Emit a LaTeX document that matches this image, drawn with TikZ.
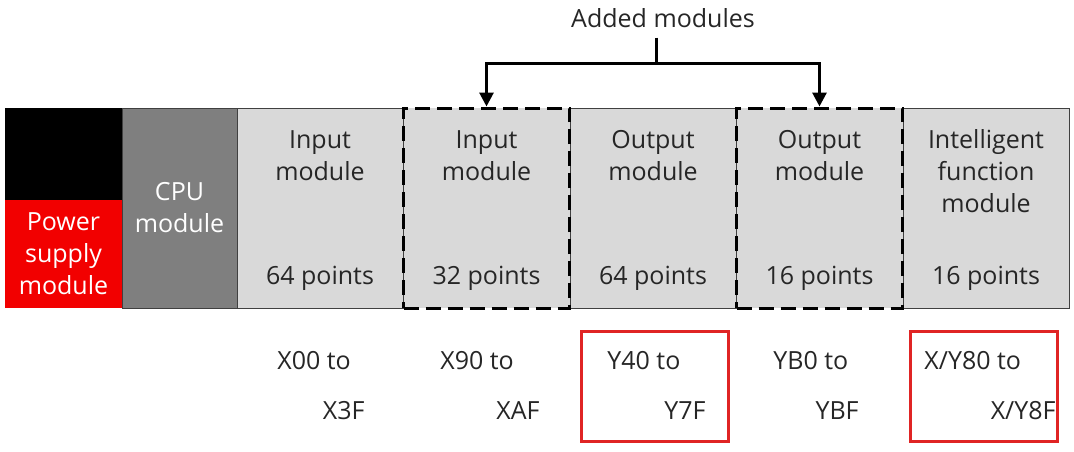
\documentclass[tikz,border=0pt]{standalone}
\usepackage{fontspec}
\setmainfont{Open Sans}
\usetikzlibrary{arrows.meta}
\definecolor{boxgray}{HTML}{D9D9D9}
\definecolor{cpugray}{HTML}{7F7F7F}
\definecolor{psred}{HTML}{F20000}
\definecolor{txtgray}{HTML}{262626}
\definecolor{markred}{HTML}{E02424}
\tikzstyle{txt}=[font=\fontsize{12.5}{16}\selectfont,inner sep=0pt,align=center,text=txtgray]
\tikzstyle{mod}=[rectangle,draw=black!75,line width=.5pt,fill=boxgray,minimum width=83pt,minimum height=100pt,inner sep=0pt]
\tikzstyle{added}=[draw=black,line width=1.5pt,dash pattern=on 7.5pt off 3.5pt]
\tikzstyle{redbox}=[rectangle,draw=markred,line width=1.5pt,minimum width=73.5pt,minimum height=55pt,inner sep=0pt]
\tikzstyle{link}=[draw=black,line width=1.5pt]

\begin{document}
\begin{tikzpicture}[x=.5pt,y=-.5pt]
\useasboundingbox (0,0) rectangle (1074,451);
% CPU and power supply
\node[rectangle,fill=black,minimum width=58.5pt,minimum height=46pt,inner sep=0pt] (pstop) at (63.5,154) {};
\node[rectangle,fill=psred,minimum width=58.5pt,minimum height=54pt,inner sep=0pt] (ps) at (63.5,254) {};
\node[txt,text=white] (pstext) at (ps) {Power\\supply\\module};
\node[mod,fill=cpugray,minimum width=57.5pt] (cpu) at (179.5,208) {};
\node[txt,text=white] (cputext) at (cpu) {CPU\\module};
% I/O modules
\node[mod] (in1) at (320,208) {};
\node[mod] (out1) at (653,208) {};
\node[mod] (ifm) at (986,208) {};
\node[mod,added] (in2) at (486.5,208) {};
\node[mod,added] (out2) at (819.5,208) {};
\node[txt,anchor=base] (in1name) at (320,180) {Input\\module};
\node[txt,anchor=base] (in2name) at (486.5,180) {Input\\module};
\node[txt,anchor=base] (out1name) at (653,180) {Output\\module};
\node[txt,anchor=base] (out2name) at (819.5,180) {Output\\module};
\node[txt,anchor=base] (ifmname) at (986,212) {Intelligent\\function\\module};
\node[txt,anchor=base] (in1pts) at (320,284) {64 points};
\node[txt,anchor=base] (in2pts) at (486.5,284) {32 points};
\node[txt,anchor=base] (out1pts) at (653,284) {64 points};
\node[txt,anchor=base] (out2pts) at (819.5,284) {16 points};
\node[txt,anchor=base] (ifmpts) at (986,284) {16 points};
% added modules
\node[txt,anchor=base] (added) at (663,27) {Added modules};
\coordinate (split) at (656,63);
\draw[link,shorten <=5pt] (added.south -| split) -- (split);
\draw[link,-{Triangle[width=7pt,length=7pt]}] (split) -| (in2.north);
\draw[link,-{Triangle[width=7pt,length=7pt]}] (split) -| (out2.north);
% device numbers
\node[redbox] (rb1) at (654.5,386) {};
\node[redbox] (rb2) at (984,386) {};
\node[txt,anchor=base west] (in1from) at (277,369) {X00 to};
\node[txt,anchor=base east] (in1to) at (365,419) {X3F};
\node[txt,anchor=base west] (in2from) at (440,369) {X90 to};
\node[txt,anchor=base east] (in2to) at (540,419) {XAF};
\node[txt,anchor=base west] (out1from) at (607,369) {Y40 to};
\node[txt,anchor=base east] (out1to) at (706,419) {Y7F};
\node[txt,anchor=base west] (out2from) at (773,369) {YB0 to};
\node[txt,anchor=base east] (out2to) at (859,419) {YBF};
\node[txt,anchor=base west] (ifmfrom) at (924,369) {X/Y80 to};
\node[txt,anchor=base east] (ifmto) at (1056,419) {X/Y8F};
\end{tikzpicture}
\end{document}
